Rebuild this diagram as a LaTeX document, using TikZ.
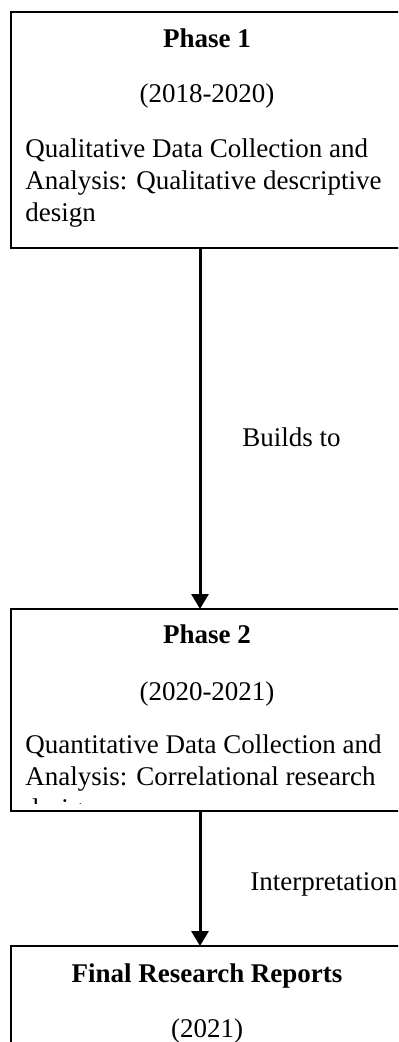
\documentclass[tikz,border=0pt]{standalone}
\usepackage{fontspec}
\setmainfont{Liberation Serif}
\usetikzlibrary{arrows.meta}

\begin{document}
\begin{tikzpicture}[x=0.5pt,y=-0.5pt,
	phasebox/.style={draw,line width=1pt,inner sep=0pt,outer sep=0pt,anchor=north west,minimum width=196pt},
	txt/.style={inner sep=0pt,font=\fontsize{13.5}{16}\selectfont},
	head/.style={txt,font=\fontsize{13.5}{16}\selectfont\bfseries,anchor=base},
	line/.style={txt,anchor=base west},
	flow/.style={line width=1.5pt,-{Triangle[length=7.5pt,width=8.5pt]}}]
	\useasboundingbox (0,0) rectangle (398,1042);
	\clip (0,0) rectangle (398,1042);
	\coordinate (ax) at (200,0);
	% phase 1
	\node[phasebox,minimum height=118pt] (ph1) at (11,12) {};
	\node[head] (ph1t) at (207,48) {Phase 1};
	\node[txt,anchor=base] (ph1y) at (207,103) {(2018-2020)};
	\node[line] (ph1a) at (25,158) {Qualitative Data Collection and};
	\node[line] (ph1b) at (25,190) {Analysis: Qualitative descriptive};
	\node[line] (ph1c) at (25,222) {design};
	% phase 2
	\node[phasebox,minimum height=101pt] (ph2) at (11,609) {};
	\node[head] (ph2t) at (207,643) {Phase 2};
	\node[txt,anchor=base] (ph2y) at (207,700) {(2020-2021)};
	\node[line] (ph2a) at (25,753) {Quantitative Data Collection and};
	\node[line] (ph2b) at (25,785) {Analysis: Correlational research};
	\begin{scope}
		\clip (11,609) rectangle (403,803);
		\node[line] (ph2c) at (25,817) {design};
	\end{scope}
	% final
	\node[phasebox,minimum height=80pt] (ph3) at (11,946) {};
	\node[head] (ph3t) at (207,982) {Final Research Reports};
	\node[txt,anchor=base] (ph3y) at (207,1037) {(2021)};
	% arrows
	\draw[flow] (ph1.south -| ax) -- (ph2.north -| ax);
	\draw[flow] (ph2.south -| ax) -- (ph3.north -| ax);
	\node[line] (lb1) at (242,446) {Builds to};
	\node[line] (lb2) at (250,890) {Interpretation};
\end{tikzpicture}
\end{document}
